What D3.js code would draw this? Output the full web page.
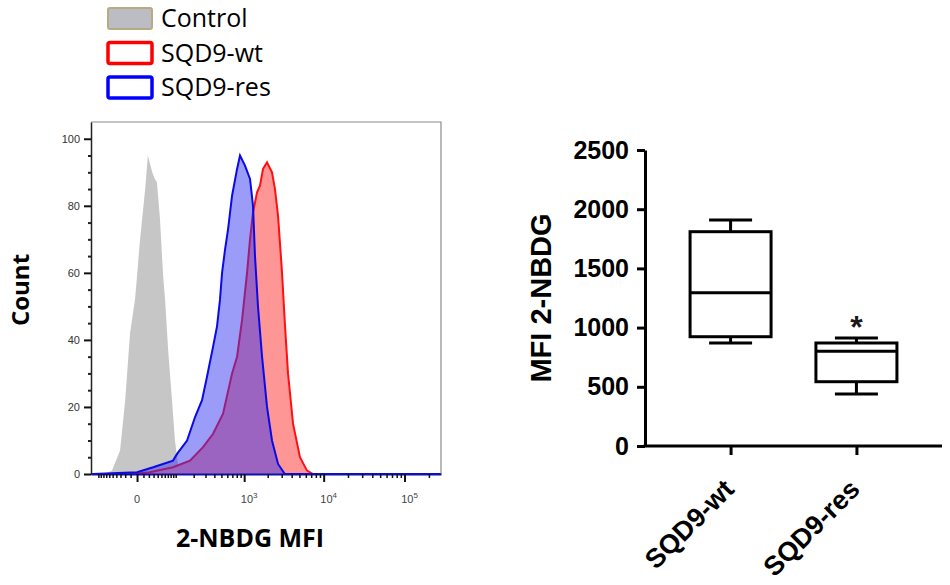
<!DOCTYPE html>
<html>
<head>
<meta charset="utf-8">
<script src="https://cdn.jsdelivr.net/npm/d3@7"></script>
<style>
body { margin: 0; background: #fff; }
svg { display: block; }
</style>
</head>
<body>
<svg width="950" height="585"></svg>
<script>
// histogram series (MFI, count)
var controlMfi   = [-135, -80, -52, -31, -20, -11, -3, 0, 4, 13, 18, 27, 33, 38, 46, 55, 61, 71, 85, 97, 110, 135, 282000];
var controlCount = [0, 0, 1, 7, 22, 42, 52, 59, 69, 85, 95, 90, 88, 87, 76, 59, 52, 37, 22, 10, 3, 0, 0];
var wtMfi   = [-135, -6, 22, 89, 175, 276, 384, 526, 694, 808, 939, 1089, 1190, 1300, 1463, 1596, 1745, 1960, 2265, 2470, 2700, 3030, 3285, 3600, 4160, 5075, 6215, 7370, 282000];
var wtCount = [0, 0, 0.5, 2, 4, 8, 12, 18, 30, 35, 46, 60, 70, 78, 84, 86, 91, 93, 90, 85, 77, 60, 45, 30, 15, 5, 1, 0, 0];
var resMfi   = [-135, -125, 0, 29, 89, 106, 157, 210, 267, 315, 384, 435, 478, 510, 560, 614, 694, 808, 883, 1025, 1190, 1300, 1378, 1505, 1695, 1960, 2265, 2700, 3285, 282000];
var resCount = [0, 0, 0.5, 2, 4, 6, 10, 17, 22, 29, 38, 44, 52, 60, 67, 73, 83, 91, 95, 92, 88, 80, 65, 50, 35, 20, 10, 3, 0, 0];

var histYTicks = [0, 20, 40, 60, 80, 100];
var histXMajor = [0, 1000, 10000, 100000];
var histXLabels = ["0", "3", "4", "5"];

// box plot summary
var groups = ["SQD9-wt", "SQD9-res"];
var boxMin = [870, 440];
var boxQ1 = [923, 543];
var boxMed = [1295, 800];
var boxQ3 = [1810, 870];
var boxMax = [1909, 912];
var boxYTicks = [0, 500, 1000, 1500, 2000, 2500];

var legendNames = ["Control", "SQD9-wt", "SQD9-res"];

var svg = d3.select("svg");

// ---------- legend ----------
var legFill = ["#bbbcc4", "#fff", "#fff"];
var legStroke = ["#b9ab80", "#ff0000", "#0000ff"];
var leg = svg.append("g");
legendNames.forEach(function(n, i) {
	var y = 8 + i * 34.5;
	leg.append("rect")
		.attr("x", 108).attr("y", y)
		.attr("width", 44).attr("height", 21)
		.attr("rx", 2)
		.style("fill", legFill[i])
		.style("stroke", legStroke[i])
		.style("stroke-width", i == 0 ? 2 : 3.5);
	leg.append("text")
		.attr("x", 161).attr("y", y + 19)
		.style("font-family", "Open Sans")
		.style("font-size", "25px")
		.text(n);
});

// ---------- histogram ----------
var hx = d3.scaleSymlog().constant(50)
	.domain([-135, 282000])
	.range([91, 441]);
var hy = d3.scaleLinear()
	.domain([0, 105])
	.range([474, 122]);

svg.append("defs").append("clipPath").attr("id", "hclip")
	.append("rect").attr("x", 91).attr("y", 122).attr("width", 350).attr("height", 353);

var area = d3.area()
	.x(d => hx(d[0]))
	.y0(hy(0))
	.y1(d => hy(d[1]));
var line = d3.line()
	.x(d => hx(d[0]))
	.y(d => hy(d[1]));

var hg = svg.append("g").attr("clip-path", "url(#hclip)");
var ctrl = d3.zip(controlMfi, controlCount);
var wt = d3.zip(wtMfi, wtCount);
var res = d3.zip(resMfi, resCount);

hg.append("path").attr("d", area(ctrl)).style("fill", "#c6c6c6");
hg.append("path").attr("d", area(wt)).style("fill", "rgb(255,150,150)");
hg.append("path").attr("d", line(wt)).style("fill", "none")
	.style("stroke", "#ff1010").style("stroke-width", 2);
hg.append("path").attr("d", area(res)).style("fill", "rgb(45,45,240)").style("fill-opacity", 0.48);
hg.append("path").attr("d", line(res)).style("fill", "none")
	.style("stroke", "#0a0ae6").style("stroke-width", 2);

// frame
svg.append("path")
	.attr("d", "M91,122H441V474")
	.style("fill", "none").style("stroke", "#8a8a8a").style("stroke-width", 1.2);

// y axis
var yAx = svg.append("g").attr("transform", "translate(91,0)")
	.call(d3.axisLeft(hy).tickValues(histYTicks).tickSize(7).tickPadding(4).tickSizeOuter(0));
yAx.select(".domain").style("stroke", "#222").style("stroke-width", 1.5);
yAx.selectAll(".tick line").style("stroke", "#111").style("stroke-width", 2);
yAx.selectAll("text").style("font-family", "Liberation Sans").style("font-size", "11px").style("fill", "#333");
svg.append("g").attr("transform", "translate(91,0)")
	.call(d3.axisLeft(hy).tickValues(d3.range(5, 105, 5).filter(v => v % 20 != 0)).tickSize(3).tickFormat(""))
	.call(g => g.select(".domain").remove())
	.selectAll(".tick line").style("stroke", "#222").style("stroke-width", 2);

// x axis
var minor = [];
[-100, -90, -80, -70, -60, -50, -40, -30, -20, -10].forEach(v => minor.push(v));
[10, 20, 30, 40, 50, 60, 70, 80, 90].forEach(v => minor.push(v));
[100, 1000, 10000, 100000].forEach(function(dec) {
	for (var k = 2; k <= 9; k++) if (dec * k < 282000) minor.push(dec * k);
});
minor.push(100);
var xAx = svg.append("g").attr("transform", "translate(0,474)")
	.call(d3.axisBottom(hx).tickValues(histXMajor).tickSize(8).tickFormat("").tickSizeOuter(0));
xAx.select(".domain").style("stroke", "#1010b0").style("stroke-width", 2);
xAx.selectAll(".tick line").style("stroke", "#111").style("stroke-width", 2);
svg.append("g").attr("transform", "translate(0,474)")
	.call(d3.axisBottom(hx).tickValues(minor).tickSize(4).tickFormat(""))
	.call(g => g.select(".domain").remove())
	.selectAll(".tick line").style("stroke", "#111").style("stroke-width", 1.5);

var xl = svg.append("g").style("font-family", "Liberation Sans").style("fill", "#444");
histXMajor.forEach(function(v, i) {
	var t = xl.append("text")
		.attr("x", hx(v) + (i ? 5 : 0)).attr("y", 503)
		.attr("text-anchor", "middle")
		.style("font-size", "11px");
	if (i == 0) t.text("0");
	else {
		t.append("tspan").text("10");
		t.append("tspan").attr("dy", -5).style("font-size", "8px").text(histXLabels[i]);
	}
});

svg.append("text")
	.attr("transform", "translate(29,290) rotate(-90)")
	.attr("text-anchor", "middle")
	.style("font-family", "Open Sans").style("font-weight", "bold").style("font-size", "24px")
	.text("Count");
svg.append("text")
	.attr("x", 250).attr("y", 547)
	.attr("text-anchor", "middle")
	.style("font-family", "Open Sans").style("font-weight", "bold").style("font-size", "25px")
	.text("2-NBDG MFI");

// ---------- box plot ----------
var by = d3.scaleLinear().domain([0, 2500]).range([446, 150]);
var bx = d3.scalePoint().domain(groups).range([645, 942]).padding(0.68);
var bw = 81, cw = 43;

var byAx = svg.append("g").attr("transform", "translate(645,0)")
	.call(d3.axisLeft(by).tickValues(boxYTicks).tickFormat(d3.format("d"))
		.tickSize(8).tickPadding(8).tickSizeOuter(0));
byAx.select(".domain").style("stroke", "#000").style("stroke-width", 3);
byAx.selectAll(".tick line").style("stroke", "#000").style("stroke-width", 3);
byAx.selectAll("text").style("font-family", "Liberation Sans").style("font-weight", "bold")
	.style("font-size", "25px").style("fill", "#000");

var bxAx = svg.append("g").attr("transform", "translate(0,446)")
	.call(d3.axisBottom(bx).tickSize(9).tickFormat("").tickSizeOuter(0));
bxAx.select(".domain").attr("d", "M643.5,0H942").style("stroke", "#000").style("stroke-width", 3);
bxAx.selectAll(".tick line").style("stroke", "#000").style("stroke-width", 3);

groups.forEach(function(g, i) {
	svg.append("text")
		.attr("transform", "translate(" + (bx(g) + 5) + ",491) rotate(-45)")
		.attr("text-anchor", "end")
		.style("font-family", "Liberation Sans").style("font-weight", "bold").style("font-size", "27px")
		.text(g);
});

var bg = svg.append("g").style("stroke", "#000").style("stroke-width", 3).style("fill", "none");
groups.forEach(function(g, i) {
	var c = bx(g);
	bg.append("line").attr("x1", c).attr("x2", c).attr("y1", by(boxMax[i])).attr("y2", by(boxQ3[i]));
	bg.append("line").attr("x1", c).attr("x2", c).attr("y1", by(boxQ1[i])).attr("y2", by(boxMin[i]));
	bg.append("line").attr("x1", c - cw / 2).attr("x2", c + cw / 2).attr("y1", by(boxMax[i])).attr("y2", by(boxMax[i]));
	bg.append("line").attr("x1", c - cw / 2).attr("x2", c + cw / 2).attr("y1", by(boxMin[i])).attr("y2", by(boxMin[i]));
	bg.append("rect").attr("x", c - bw / 2).attr("width", bw)
		.attr("y", by(boxQ3[i])).attr("height", by(boxQ1[i]) - by(boxQ3[i]))
		.style("fill", "#fff");
	bg.append("line").attr("x1", c - bw / 2).attr("x2", c + bw / 2).attr("y1", by(boxMed[i])).attr("y2", by(boxMed[i]));
});

svg.append("text")
	.attr("x", bx("SQD9-res")).attr("y", 338)
	.attr("text-anchor", "middle")
	.style("font-family", "Liberation Sans").style("font-weight", "bold").style("font-size", "32px")
	.style("fill", "#1a1a1a")
	.text("*");

svg.append("text")
	.attr("transform", "translate(551,298) rotate(-90)")
	.attr("text-anchor", "middle")
	.style("font-family", "Liberation Sans").style("font-weight", "bold").style("font-size", "29px")
	.text("MFI 2-NBDG");
</script>
</body>
</html>
